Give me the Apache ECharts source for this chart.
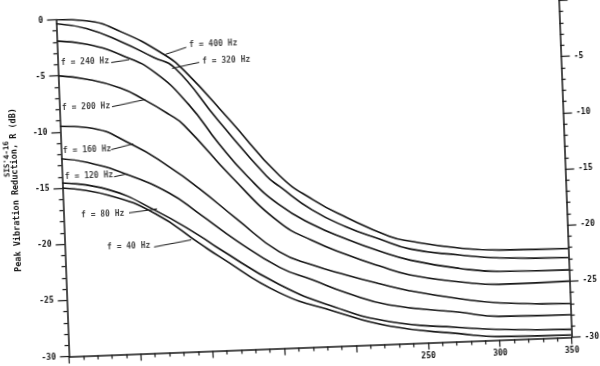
<!DOCTYPE html>
<html><head><meta charset="utf-8">
<script src="https://cdn.jsdelivr.net/npm/echarts@6/dist/echarts.min.js"></script>
<style>
html,body{margin:0;padding:0;background:#fff;overflow:hidden}
#c{width:600px;height:366px;transform:rotate(-2.2deg);transform-origin:300px 183px;background:#fff}
</style></head><body><div id="c"></div>
<script>
// Peak vibration reduction R (dB) vs x, one curve per frequency
const f400 = [[0,0],[21,-0.2],[45,-1.3],[74,-3.45],[88,-5.0],[118,-9.5],[151,-14.6],[174,-16.9],[197,-18.6],[226,-20.4],[240,-20.9],[275,-21.7],[302,-22.0],[350,-22.1]];
const f320 = [[0,-0.35],[21,-0.9],[45,-2.2],[67,-3.7],[81,-4.65],[110,-9.5],[142,-14.6],[151,-15.6],[173,-17.8],[196,-19.4],[219,-20.6],[240,-21.6],[274,-22.3],[302,-22.7],[350,-22.9]];
const f240 = [[0,-1.9],[21,-2.3],[45,-3.4],[67,-5.0],[90,-8.0],[110,-11.6],[129,-14.6],[150,-17.2],[173,-19.1],[196,-20.5],[219,-21.7],[240,-22.6],[274,-23.5],[302,-23.9],[350,-24.0]];
const f200 = [[0,-5.0],[20,-5.4],[43,-6.3],[59,-7.4],[76,-8.8],[86,-9.8],[118,-14.6],[150,-18.8],[172,-20.5],[196,-21.9],[218,-23.0],[239,-23.9],[274,-24.7],[301,-25.05],[350,-25.0]];
const f160 = [[0,-9.5],[19,-9.7],[50,-11.4],[75,-13.5],[95,-15.5],[120,-18.3],[149,-21.4],[172,-22.7],[195,-23.7],[218,-24.6],[238,-25.3],[273,-26.2],[301,-26.7],[350,-27.0]];
const f120 = [[0,-12.4],[18,-12.8],[45,-14.0],[74,-15.8],[94,-17.7],[120,-20.3],[149,-22.8],[171,-24.0],[195,-25.3],[224,-26.5],[273,-27.4],[300,-27.9],[350,-28.0]];
const f80  = [[0,-14.55],[32,-15.3],[64,-17.3],[94,-19.7],[107,-20.9],[148,-24.3],[186,-26.5],[224,-28.0],[272,-28.75],[300,-29.06],[350,-29.3]];
const f40  = [[0,-15.0],[32,-15.8],[64,-17.6],[94,-20.4],[107,-21.6],[148,-25.05],[186,-26.9],[224,-28.4],[272,-29.3],[300,-29.7],[350,-29.8]];

const curveData = [f400, f320, f240, f200, f160, f120, f80, f40];
const curveNames = ['f = 400 Hz','f = 320 Hz','f = 240 Hz','f = 200 Hz','f = 160 Hz','f = 120 Hz','f = 80 Hz','f = 40 Hz'];
// label anchor (left edge of text), in data units
const labelAt = [[91.9,-2.73],[100.5,-4.2],[2.3,-3.83],[1.8,-7.86],[1.3,-11.7],[2.0,-14.0],[12.2,-17.46],[29.4,-20.4]];
// arrow from -> to, in data units
const arrowFrom = [[89.8,-2.9],[98.4,-4.28],[37.2,-4.0],[36.6,-7.93],[34.8,-11.75],[36.1,-14.17],[45.6,-17.43],[62.1,-20.55]];
const arrowTo   = [[75,-3.46],[79.4,-4.73],[49.8,-3.8],[59.8,-7.4],[50.3,-11.3],[45.3,-13.95],[65.2,-17.17],[88.1,-20.04]];

const xTickLabels = [250, 300, 350];
const yTicks = [0,-5,-10,-15,-20,-25,-30];
const yTitle = 'Peak Vibration Reduction, R (dB)';
const docId = "SIS'4-16";

const ink = '#151515';
const mono = '"DejaVu Sans Mono", "Liberation Mono", monospace';

const chart = echarts.init(document.getElementById('c'), null, {renderer:'canvas'});

const series = curveData.map((d, i) => ({
  type: 'line',
  name: curveNames[i],
  data: d,
  smooth: 0.5,
  showSymbol: false,
  symbol: 'none',
  lineStyle: {color: ink, width: 1.6},
  silent: true,
  markLine: {
    silent: true,
    symbol: ['none', 'arrow'],
    symbolSize: [0, 6],
    label: {show: false},
    lineStyle: {color: ink, width: 1, type: 'solid'},
    data: [[{coord: arrowFrom[i]}, {coord: arrowTo[i]}]]
  }
}));

series.push({
  type: 'scatter',
  name: 'labels',
  data: labelAt.map((p, i) => [p[0], p[1], curveNames[i]]),
  symbolSize: 0,
  silent: true,
  label: {
    show: true, position: 'right', distance: 0,
    formatter: p => p.value[2],
    color: ink, fontFamily: mono, fontSize: 8, fontWeight: 'bold'
  }
});

const yAxisBase = {
  type: 'value', min: -30, max: 0, interval: 5,
  axisLine: {show: true, onZero: false, lineStyle: {color: ink, width: 1.5}},
  axisTick: {show: true, length: 9, lineStyle: {color: ink, width: 1.2}},
  minorTick: {show: true, splitNumber: 5, length: 4, lineStyle: {color: ink, width: 1.2}},
  splitLine: {show: false},
  minorSplitLine: {show: false}
};

chart.setOption({
  animation: false,
  backgroundColor: '#fff',
  grid: {left: 62.5, right: 34.5, top: 10.5, bottom: 18.5, containLabel: false, outerBoundsMode: 'none'},
  xAxis: {
    type: 'value', min: 0, max: 350, interval: 50,
    axisLine: {show: true, onZero: false, lineStyle: {color: ink, width: 1.5}},
    axisTick: {show: true, length: 7, lineStyle: {color: ink, width: 1.2}},
    minorTick: {show: true, splitNumber: 5, length: 4, lineStyle: {color: ink, width: 1.2}},
    splitLine: {show: false},
    axisLabel: {
      margin: 9, color: ink, fontFamily: mono, fontSize: 8, fontWeight: 'bold',
      formatter: v => xTickLabels.indexOf(v) >= 0 ? String(v) : ''
    }
  },
  yAxis: [
    Object.assign({}, yAxisBase, {
      position: 'left',
      name: yTitle, nameLocation: 'middle', nameGap: 42,
      nameTextStyle: {color: ink, fontFamily: mono, fontSize: 8.5, fontWeight: 'bold'},
      axisLabel: {margin: 13, color: ink, fontFamily: mono, fontSize: 8, fontWeight: 'bold',
        formatter: v => yTicks.indexOf(v) >= 0 ? String(v) : ''}
    }),
    Object.assign({}, yAxisBase, {
      position: 'right',
      axisLabel: {margin: 13, color: ink, fontFamily: mono, fontSize: 8, fontWeight: 'bold',
        formatter: v => (v === 0 ? '' : String(v))}
    })
  ],
  graphic: [{
    type: 'text', x: 8, y: 148, rotation: Math.PI / 2, silent: true,
    style: {text: docId, fill: ink, font: 'bold 7.5px ' + mono, align: 'center', verticalAlign: 'middle'}
  }],
  series: series
});
</script></body></html>
